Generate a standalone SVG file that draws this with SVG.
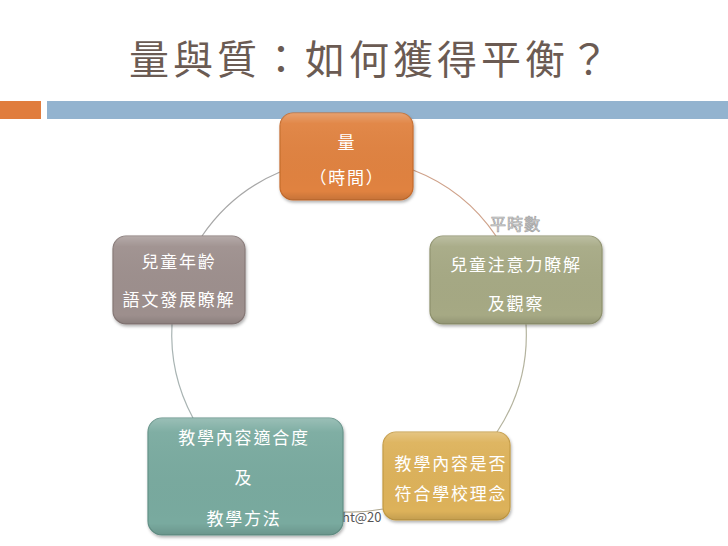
<svg xmlns="http://www.w3.org/2000/svg" width="728" height="546" viewBox="0 0 728 546">
<style>
.t{font-family:"Noto Sans CJK TC","Noto Sans CJK SC",sans-serif;}
.title{font-size:40px;fill:#6b5b53;letter-spacing:4px;}
.nt{font-size:17px;fill:#ffffff;text-anchor:middle;letter-spacing:1.8px;}
.node{stroke-width:1.2;}
.c{fill:none;stroke-width:1.2;}
</style>
<defs>
<linearGradient id="gloss" x1="0" y1="0" x2="0" y2="1">
<stop offset="0" stop-color="#ffffff" stop-opacity="0.25"/>
<stop offset="0.12" stop-color="#ffffff" stop-opacity="0.05"/>
<stop offset="0.9" stop-color="#000000" stop-opacity="0"/>
<stop offset="1" stop-color="#000000" stop-opacity="0.12"/>
</linearGradient>
<filter id="sh" x="-10%" y="-10%" width="125%" height="130%">
<feDropShadow dx="1" dy="2" stdDeviation="1.5" flood-color="#000" flood-opacity="0.3"/>
</filter>
</defs>
<rect width="728" height="546" fill="#ffffff"/>
<text class="t title" x="129" y="74">量與質：如何獲得平衡？</text>
<rect x="0" y="101" width="41" height="18" fill="#e07d3e"/>
<rect x="47" y="101" width="681" height="18" fill="#93b3cf"/>

<g id="connectors">
<path class="c" stroke="#a8a8a8" d="M280,172 A177,177 0 0,0 202,236"/>
<path class="c" stroke="#cfa28a" d="M413,170 A177,177 0 0,1 496,236"/>
<path class="c" stroke="#a9b4b3" d="M172,324 A177,177 0 0,0 193,418"/>
<path class="c" stroke="#b4b39e" d="M526,324 A177,177 0 0,1 497,432"/>
<path class="c" stroke="#b0a890" d="M343,512 A177,177 0 0,0 383,509"/>
<text class="t" x="490" y="230" font-size="16" fill="#eeeeee" stroke="#a0a0a0" stroke-width="0.7" letter-spacing="1">平時數</text>
</g>
<text class="t" x="342" y="522" font-size="13" fill="#555555">ht@20</text>

<g id="node-quantity">
<rect class="node" x="280" y="113" width="133" height="87" rx="13" fill="#e0823f" stroke="#c56b2c" filter="url(#sh)"/>
<rect x="280" y="113" width="133" height="87" rx="13" fill="url(#gloss)"/>
<text class="t nt" x="347" y="149">量</text>
<text class="t nt" x="347" y="184">（時間）</text>
</g>

<g id="node-age">
<rect class="node" x="113" y="236" width="132" height="88" rx="13" fill="#9d8f8d" stroke="#857775" filter="url(#sh)"/>
<rect x="113" y="236" width="132" height="88" rx="13" fill="url(#gloss)"/>
<text class="t nt" x="179" y="268">兒童年齡</text>
<text class="t nt" x="179" y="306">語文發展瞭解</text>
</g>

<g id="node-attention">
<rect class="node" x="430" y="236" width="172" height="88" rx="13" fill="#a6a984" stroke="#8e916c" filter="url(#sh)"/>
<rect x="430" y="236" width="172" height="88" rx="13" fill="url(#gloss)"/>
<text class="t nt" x="516" y="271">兒童注意力瞭解</text>
<text class="t nt" x="516" y="310">及觀察</text>
</g>

<g id="node-content">
<rect class="node" x="148" y="418" width="195" height="117" rx="14" fill="#79aa9f" stroke="#639187" filter="url(#sh)"/>
<rect x="148" y="418" width="195" height="117" rx="14" fill="url(#gloss)"/>
<text class="t nt" x="244" y="444">教學內容適合度</text>
<text class="t nt" x="244" y="484">及</text>
<text class="t nt" x="244" y="525">教學方法</text>
</g>

<g id="node-school">
<rect class="node" x="383" y="432" width="127" height="88" rx="13" fill="#ddb25a" stroke="#c49a42" filter="url(#sh)"/>
<rect x="383" y="432" width="127" height="88" rx="13" fill="url(#gloss)"/>
<text class="t nt" x="451" y="470">教學內容是否</text>
<text class="t nt" x="451" y="500">符合學校理念</text>
</g>
</svg>
